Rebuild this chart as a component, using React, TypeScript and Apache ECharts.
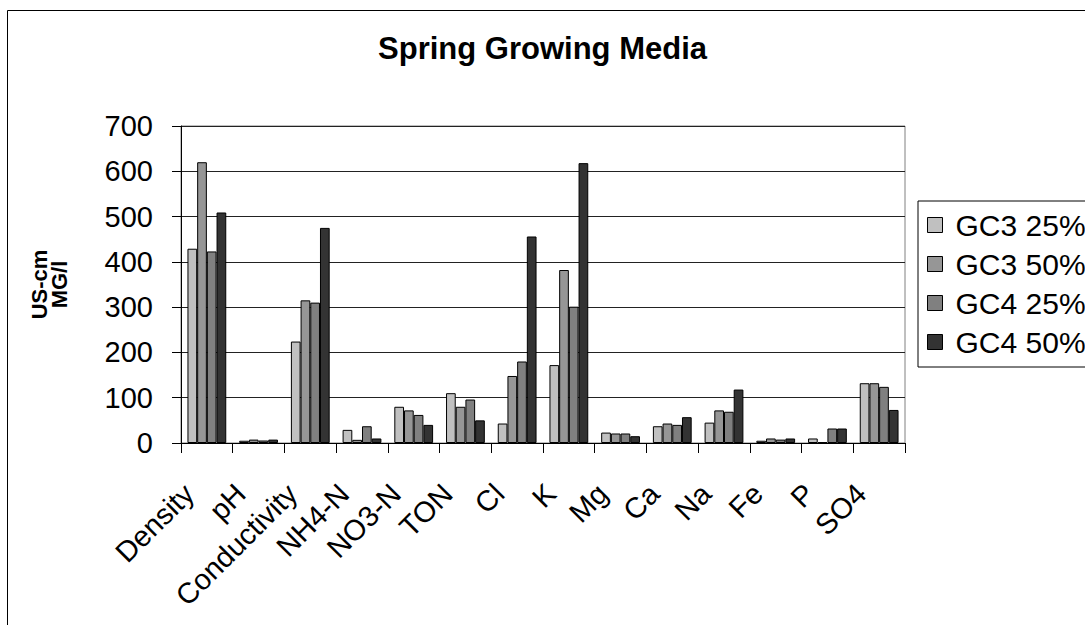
import React, { useEffect, useRef } from "react";
import * as echarts from "echarts";

const categories = [
  "Density", "pH", "Conductivity", "NH4-N", "NO3-N", "TON", "Cl",
  "K", "Mg", "Ca", "Na", "Fe", "P", "SO4",
];

const seriesNames = ["GC3 25%", "GC3 50%", "GC4 25%", "GC4 50%"];
const seriesColors = ["#c0c0c0", "#969696", "#808080", "#333333"];

const gc3_25 = [429, 5, 224, 29, 80, 110, 43, 172, 23, 37, 45, 5, 10, 132];
const gc3_50 = [620, 7.5, 315, 7, 72, 80, 148, 382, 21, 43, 72, 10, 2, 132];
const gc4_25 = [423, 5.5, 310, 37, 62, 96, 180, 301, 21, 40, 69, 7.5, 32, 124];
const gc4_50 = [509, 7.5, 475, 10, 40, 50, 456, 618, 15, 57, 118, 10, 32, 73];

const yTicks = { min: 0, max: 700, interval: 100 };

const FONT = "'Liberation Sans', Arial, Helvetica, sans-serif";

export default function App() {
  const ref = useRef<HTMLDivElement>(null);

  useEffect(() => {
    if (!ref.current) return;
    const chart = echarts.init(ref.current, undefined, { renderer: "svg" });
    const values = [gc3_25, gc3_50, gc4_25, gc4_50];

    chart.setOption({
      animation: false,
      backgroundColor: "#ffffff",
      textStyle: { fontFamily: FONT, color: "#000" },
      title: {
        text: "Spring Growing Media",
        left: "center",
        top: 28,
        textStyle: { fontFamily: FONT, fontSize: 31, fontWeight: "bold", color: "#000" },
      },
      graphic: [
        {
          type: "rect",
          shape: { x: 7.5, y: 10.5, width: 1300, height: 900 },
          style: { fill: "none", stroke: "#000", lineWidth: 1 },
          silent: true,
          z: -1,
        },
      ],
      legend: {
        orient: "vertical",
        left: 918,
        top: 201,
        padding: [9, 12, 10, 9],
        itemWidth: 15,
        itemHeight: 15,
        itemGap: 9,
        icon: "rect",
        borderColor: "#000",
        borderWidth: 1,
        backgroundColor: "#fff",
        itemStyle: { borderColor: "#000", borderWidth: 1 },
        textStyle: {
          fontFamily: FONT,
          fontSize: 30,
          lineHeight: 30,
          color: "#000",
          padding: [0, 0, 0, 8],
        },
        data: seriesNames,
      },
      grid: {
        left: 181,
        top: 126,
        width: 724,
        height: 317,
        show: true,
        borderColor: "#808080",
        borderWidth: 1,
        backgroundColor: "transparent",
      },
      xAxis: {
        type: "category",
        data: categories,
        boundaryGap: true,
        axisLine: { lineStyle: { color: "#000", width: 1 } },
        axisTick: { show: true, length: 10, interval: 0, lineStyle: { color: "#000" } },
        axisLabel: {
          interval: 0,
          rotate: 45,
          margin: 54,
          align: "right",
          verticalAlign: "bottom",
          lineHeight: 29,
          padding: [0, 7, 4, 0],
          fontFamily: FONT,
          fontSize: 29,
          color: "#000",
        },
      },
      yAxis: {
        type: "value",
        min: yTicks.min,
        max: yTicks.max,
        interval: yTicks.interval,
        name: "US-cm\nMG/l",
        nameLocation: "middle",
        nameRotate: 90,
        nameGap: 112,
        nameTextStyle: {
          fontFamily: FONT,
          fontSize: 22,
          fontWeight: "bold",
          lineHeight: 20,
          color: "#000",
        },
        axisLine: { show: true, lineStyle: { color: "#000", width: 1 } },
        axisTick: { show: true, length: 9, lineStyle: { color: "#000" } },
        axisLabel: { margin: 28, fontFamily: FONT, fontSize: 29, color: "#000" },
        splitLine: { show: true, lineStyle: { color: "#222", width: 1 } },
      },
      series: seriesNames.map((name, i) => ({
        name,
        type: "bar",
        data: values[i],
        barGap: "0%",
        barCategoryGap: "25%",
        itemStyle: { color: seriesColors[i], borderColor: "#000", borderWidth: 1 },
      })),
    });

    return () => chart.dispose();
  }, []);

  return (
    <div
      ref={ref}
      style={{ position: "fixed", left: 0, top: 0, width: 1085, height: 625, background: "#fff" }}
    />
  );
}
